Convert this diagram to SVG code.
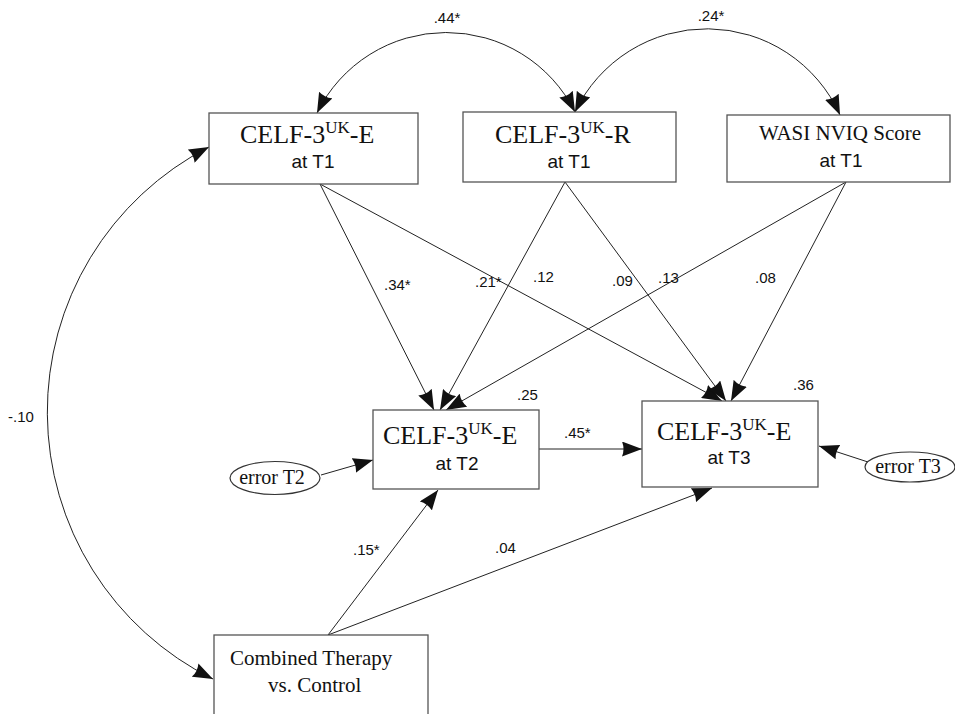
<svg xmlns="http://www.w3.org/2000/svg" width="955" height="714" viewBox="0 0 955 714">
<defs>
<marker id="ah" markerUnits="userSpaceOnUse" viewBox="0 0 20 15" refX="20" refY="7.5" markerWidth="20" markerHeight="15" orient="auto-start-reverse">
<path d="M0,0 L20,7.5 L0,15 Q3,7.5 0,0 z" fill="#111"/>
</marker>
<style>
.box{fill:#fff;stroke:#555;stroke-width:1.3}
.ell{fill:#fff;stroke:#333;stroke-width:1.2}
.ln{fill:none;stroke:#222;stroke-width:1;marker-end:url(#ah)}
.dbl{fill:none;stroke:#222;stroke-width:1;marker-start:url(#ah);marker-end:url(#ah)}
.serif{font-family:"Liberation Serif","Times New Roman",serif;fill:#111}
.sans{font-family:"Liberation Sans",Arial,sans-serif;fill:#111}
.lbl{font-family:"Liberation Sans",Arial,sans-serif;font-size:15px;fill:#111}
</style>
</defs>
<rect width="955" height="714" fill="#fff"/>

<g id="connectors">
<path class="dbl" d="M317,113 A144,144 0 0 1 575,112"/>
<path class="dbl" d="M575,112 A146,146 0 0 1 840,115"/>
<path class="dbl" d="M209,147 A298,298 0 0 0 213,679"/>
<line class="ln" x1="320" y1="184" x2="434" y2="410"/>
<line class="ln" x1="320" y1="184" x2="722" y2="401"/>
<line class="ln" x1="565" y1="182" x2="440" y2="410"/>
<line class="ln" x1="565" y1="182" x2="726" y2="401"/>
<line class="ln" x1="846" y1="182" x2="446" y2="410"/>
<line class="ln" x1="846" y1="182" x2="731" y2="401"/>
<line class="ln" x1="539" y1="449" x2="642" y2="449"/>
<line class="ln" x1="328" y1="635" x2="438" y2="490"/>
<line class="ln" x1="328" y1="635" x2="712" y2="488"/>
<line class="ln" x1="321" y1="475" x2="373" y2="460"/>
<line class="ln" x1="868" y1="462" x2="819" y2="446"/>
<text class="lbl" x="447" y="23" text-anchor="middle">.44*</text>
<text class="lbl" x="711" y="21" text-anchor="middle">.24*</text>
<text class="lbl" x="8" y="422">-.10</text>
<text class="lbl" x="384" y="290">.34*</text>
<text class="lbl" x="475" y="287">.21*</text>
<text class="lbl" x="533" y="282">.12</text>
<text class="lbl" x="612" y="286">.09</text>
<text class="lbl" x="658" y="283">.13</text>
<text class="lbl" x="755" y="283">.08</text>
<text class="lbl" x="517" y="400">.25</text>
<text class="lbl" x="793" y="390">.36</text>
<text class="lbl" x="564" y="438">.45*</text>
<text class="lbl" x="353" y="555">.15*</text>
<text class="lbl" x="495" y="553">.04</text>
</g>

<g id="celf-e-t1">
<rect class="box" x="209" y="113" width="209" height="71"/>
<text class="serif" x="240" y="143" font-size="26">CELF-3<tspan font-size="17" dy="-10">UK</tspan><tspan dy="10">-E</tspan></text>
<text class="sans" x="313" y="168" font-size="19" text-anchor="middle">at T1</text>
</g>

<g id="celf-r-t1">
<rect class="box" x="463" y="112" width="213" height="70"/>
<text class="serif" x="495" y="143" font-size="26">CELF-3<tspan font-size="17" dy="-10">UK</tspan><tspan dy="10">-R</tspan></text>
<text class="sans" x="569" y="168" font-size="19" text-anchor="middle">at T1</text>
</g>

<g id="wasi-t1">
<rect class="box" x="727" y="115" width="223" height="67"/>
<text class="serif" x="840" y="140" font-size="21" text-anchor="middle">WASI NVIQ Score</text>
<text class="sans" x="841" y="167" font-size="19" text-anchor="middle">at T1</text>
</g>

<g id="celf-e-t2">
<rect class="box" x="373" y="410" width="166" height="79"/>
<text class="serif" x="383" y="444" font-size="26">CELF-3<tspan font-size="17" dy="-10">UK</tspan><tspan dy="10">-E</tspan></text>
<text class="sans" x="457" y="470" font-size="19" text-anchor="middle">at T2</text>
</g>

<g id="celf-e-t3">
<rect class="box" x="642" y="401" width="176" height="86"/>
<text class="serif" x="657" y="440" font-size="26">CELF-3<tspan font-size="17" dy="-10">UK</tspan><tspan dy="10">-E</tspan></text>
<text class="sans" x="729" y="464" font-size="19" text-anchor="middle">at T3</text>
</g>

<g id="error-t2">
<ellipse class="ell" cx="275" cy="478" rx="45" ry="16.5"/>
<text class="serif" x="272" y="484" font-size="20" text-anchor="middle">error T2</text>
</g>

<g id="error-t3">
<ellipse class="ell" cx="910" cy="467" rx="45" ry="15"/>
<text class="serif" x="908" y="473" font-size="20" text-anchor="middle">error T3</text>
</g>

<g id="combined">
<rect class="box" x="214" y="635" width="214" height="90"/>
<text class="serif" x="230" y="665" font-size="21">Combined Therapy</text>
<text class="serif" x="268" y="692" font-size="21">vs. Control</text>
</g>
</svg>
